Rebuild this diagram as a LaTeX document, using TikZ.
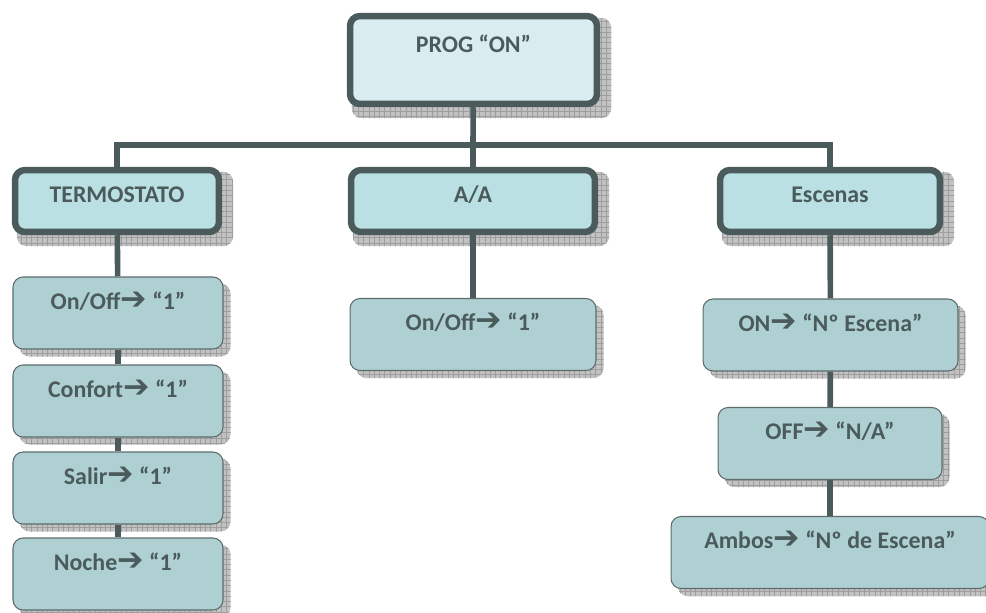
\documentclass[tikz,border=0pt]{standalone}
\usepackage{fontspec}
\setmainfont{Carlito}
\newfontfamily\arrowfont{DejaVu Sans}
\usetikzlibrary{backgrounds,positioning,calc,patterns}
\definecolor{slate}{HTML}{4B5B5C}
\definecolor{progfill}{HTML}{D9EDF0}
\definecolor{headfill}{HTML}{BAE0E3}
\definecolor{itemfill}{HTML}{AFD0D2}
\newcommand{\goesto}{{\arrowfont\bfseries\fontsize{18}{18}\selectfont ➔}}

\begin{document}
\begin{tikzpicture}[x=0.02cm, y=-0.02cm,
    boxfont/.style={font=\bfseries\fontsize{13.6}{15}\selectfont, text=slate},
    progbox/.style={boxfont, draw=slate, line width=3.7pt, fill=progfill, rounded corners=0.2cm,
      inner sep=0pt, minimum width=4.94cm, text height=0.72cm, text depth=1.04cm},
    headbox/.style={boxfont, draw=slate, line width=3.7pt, fill=headfill, rounded corners=0.2cm,
      inner sep=0pt, minimum width=#1, text height=0.64cm, text depth=0.60cm},
    itembox/.style={boxfont, draw=slate!90, line width=0.6pt, fill=itemfill, rounded corners=0.2cm,
      inner sep=0pt, minimum width=#1, text height=0.64cm, text depth=0.80cm},
    shadowbox/.style={fill=black!24, postaction={pattern=grid, pattern color=black!38}, rounded corners=0.2cm},
    conn/.style={draw=slate, line width=3.2pt}]

  \useasboundingbox (0,0) rectangle (986,612);

  % Top of the tree
  \node[progbox] (prog) at (473.5,60) {PROG “ON”};

  % Second row
  \node[headbox=4.08cm] (termo) at (117,201) {TERMOSTATO};
  \node[headbox=4.88cm] (aa) at (473,201) {A/A};
  \node[headbox=4.40cm] (escenas) at (830,201) {Escenas};

  % Items under each head
  \node[itembox=4.2cm] (t1) at (118,313) {On/Off\goesto{} “1”};
  \node[itembox=4.2cm] (t2) at (118,401) {Confort\goesto{} “1”};
  \node[itembox=4.2cm] (t3) at (118,488) {Salir\goesto{} “1”};
  \node[itembox=4.2cm] (t4) at (118,574) {Noche\goesto{} “1”};
  \node[itembox=4.92cm] (aa1) at (473,334.5) {On/Off\goesto{} “1”};
  \node[itembox=5.1cm] (e1) at (830.5,335) {ON\goesto{} “Nº Escena”};
  \node[itembox=4.48cm] (e2) at (830,443.5) {OFF\goesto{} “N/A”};
  \node[itembox=6.36cm] (e3) at (830,552.5) {Ambos\goesto{} “Nº de Escena”};

  \coordinate (bus) at (473,145);

  \begin{scope}[on background layer]
    % Shadows
    \foreach \n in {prog,termo,aa,escenas}
      \path[shadowbox] ([shift={(5,5)}]\n.north west) rectangle ([shift={(11,11)}]\n.south east);
    \foreach \n in {t1,t2,t3,t4,aa1,e1,e2,e3}
      \path[shadowbox] ([shift={(7,7)}]\n.north west) rectangle ([shift={(7,7)}]\n.south east);

    % Connectors
    \draw[conn] (prog) -- (bus);
    \draw[conn] (bus) -| (termo);
    \draw[conn] (bus) -| (escenas);
    \draw[conn] (bus) -- (aa);
    \path[conn]
      (termo) edge (t1)
      (t1) edge (t2)
      (t2) edge (t3)
      (t3) edge (t4)
      (aa) edge (aa1)
      (escenas) edge (e1)
      (e1) edge (e2)
      (e2) edge (e3);
  \end{scope}

\end{tikzpicture}
\end{document}
